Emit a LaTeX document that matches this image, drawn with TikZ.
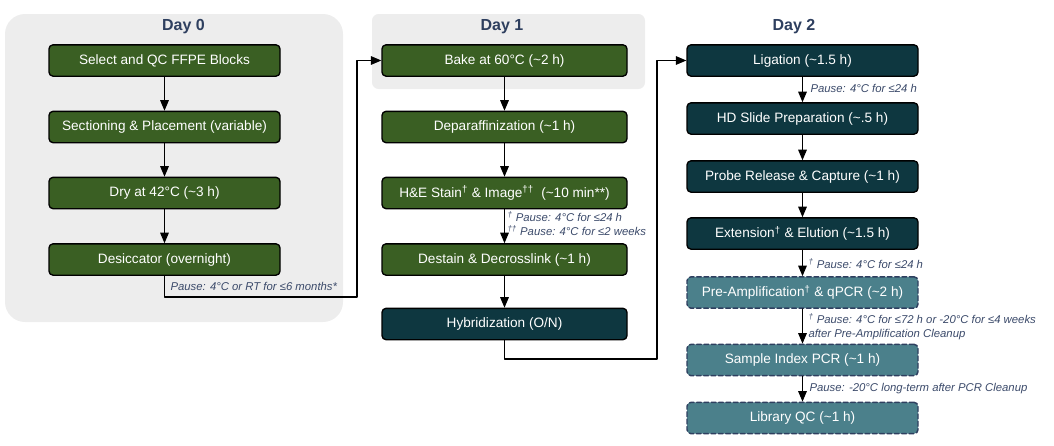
\documentclass[tikz,border=0pt]{standalone}
\usepackage{fontspec}
\setmainfont{Liberation Sans}
\usepackage{tikz}
\usetikzlibrary{arrows}

\definecolor{dayback}{HTML}{EDEDED}
\definecolor{stepgreen}{HTML}{3A5F23}
\definecolor{stepteal}{HTML}{0E3740}
\definecolor{steplight}{HTML}{4B808B}
\definecolor{dayblue}{HTML}{2E3F5F}
\definecolor{pauseblue}{HTML}{3B4A6A}

\tikzset{
  stepbox/.style={draw=black, line width=1pt, rounded corners=3pt,
    text=white, minimum height=23.5pt, inner sep=0pt,
    font=\fontsize{10.2}{12}\selectfont},
  greenbox/.style={stepbox, fill=stepgreen, minimum width=173.25pt},
  widebox/.style={stepbox, fill=stepgreen, minimum width=183.75pt},
  tealbox/.style={stepbox, fill=stepteal, minimum width=173.25pt},
  lightbox/.style={stepbox, fill=steplight, draw=dayblue, line width=1.1pt,
    dash pattern=on 3.5pt off 2pt, minimum width=173.25pt},
  daytitle/.style={text=dayblue, font=\bfseries\fontsize{12}{14}\selectfont},
  pausenote/.style={anchor=west, inner sep=0pt, align=left, text=pauseblue,
    font=\itshape\fontsize{8.5}{10.5}\selectfont}
}

\begin{document}
\begin{tikzpicture}[line cap=round,line join=round,>=triangle 45,x=0.75pt,
y=-0.75pt,line width=0.8pt]
\useasboundingbox (0,0) rectangle (1054,446);
% Nền xám cho ngày 0 và ngày 1
\fill[dayback,rounded corners=15pt] (5,14) rectangle (343,322);
\fill[dayback,rounded corners=5pt] (372,14) rectangle (645,89);
\node[daytitle] (t0) at (183.5,27) {Day 0};
\node[daytitle] (t1) at (502,27) {Day 1};
\node[daytitle] (t2) at (794,27) {Day 2};
% Ngày 0
\node[greenbox] (sel) at (164.5,60.5) {Select and QC FFPE Blocks};
\node[greenbox] (sec) at (164.5,127) {Sectioning \& Placement (variable)};
\node[greenbox] (dry) at (164.5,193) {Dry at 42°C (\textasciitilde3 h)};
\node[greenbox] (des) at (164.5,259.5) {Desiccator (overnight)};
% Ngày 1
\node[widebox] (bake) at (504.5,60.5) {Bake at 60°C (\textasciitilde2 h)};
\node[widebox] (dep) at (504.5,127) {Deparaffinization (\textasciitilde1 h)};
\node[widebox] (he) at (504.5,193)
  {H\&E Stain\textsuperscript{†} \& Image\textsuperscript{††}\ \ (\textasciitilde10 min**)};
\node[widebox] (dst) at (504.5,259.5) {Destain \& Decrosslink (\textasciitilde1 h)};
\node[widebox,fill=stepteal] (hyb) at (504.5,324) {Hybridization (O/N)};
% Ngày 2
\node[tealbox] (lig) at (802.5,60.5) {Ligation (\textasciitilde1.5 h)};
\node[tealbox] (hd) at (802.5,118.5) {HD Slide Preparation (\textasciitilde.5 h)};
\node[tealbox] (prb) at (802.5,176.5) {Probe Release \& Capture (\textasciitilde1 h)};
\node[tealbox] (ext) at (802.5,233.5)
  {Extension\textsuperscript{†} \& Elution (\textasciitilde1.5 h)};
\node[lightbox] (pre) at (802.5,292.5)
  {Pre-Amplification\textsuperscript{†} \& qPCR (\textasciitilde2 h)};
\node[lightbox] (idx) at (802.5,360) {Sample Index PCR (\textasciitilde1 h)};
\node[lightbox] (lqc) at (802.5,418) {Library QC (\textasciitilde1 h)};
% Mũi tên
\draw[->] (sel) -- (sec);
\draw[->] (sec) -- (dry);
\draw[->] (dry) -- (des);
\draw[->] (bake) -- (dep);
\draw[->] (dep) -- (he);
\draw[->] (he) -- (dst);
\draw[->] (dst) -- (hyb);
\draw[->] (lig) -- (hd);
\draw[->] (hd) -- (prb);
\draw[->] (prb) -- (ext);
\draw[->] (ext) -- (pre);
\draw[->] (pre) -- (idx);
\draw[->] (idx) -- (lqc);
\coordinate (turn0) at (357,297);
\coordinate (turn1) at (657,359);
\draw[->] (des.south) |- (turn0) |- (bake.west);
\draw[->] (hyb.south) |- (turn1) |- (lig.west);
% Ghi chú tạm dừng
\node[pausenote] (p0) at (170,286) {Pause: 4°C or RT for ≤6 months*};
\node[pausenote] (p1) at (507,224)
  {\textsuperscript{†} Pause: 4°C for ≤24 h\\\textsuperscript{††} Pause: 4°C for ≤2 weeks};
\node[pausenote] (p2) at (810,88) {Pause: 4°C for ≤24 h};
\node[pausenote] (p3) at (808,264) {\textsuperscript{†} Pause: 4°C for ≤24 h};
\node[pausenote] (p4) at (808,327)
  {\textsuperscript{†} Pause: 4°C for ≤72 h or -20°C for ≤4 weeks\\after Pre-Amplification Cleanup};
\node[pausenote] (p5) at (809,389) {Pause: -20°C long-term after PCR Cleanup};
\end{tikzpicture}
\end{document}
